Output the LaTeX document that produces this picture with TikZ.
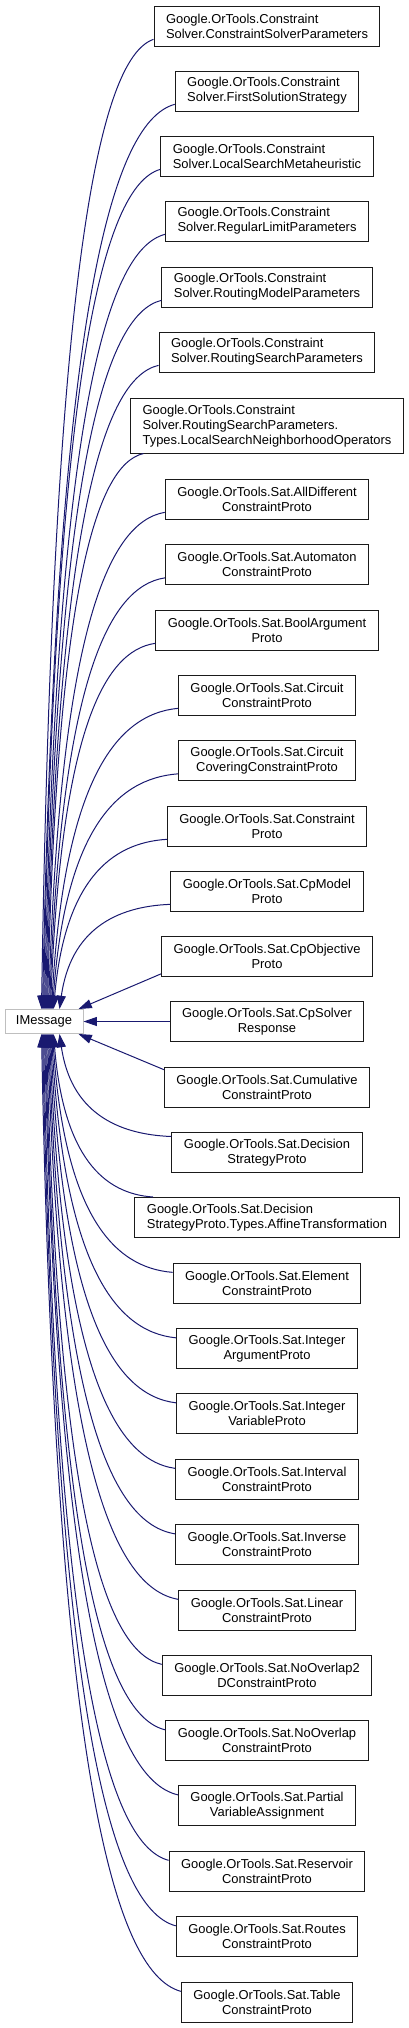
\documentclass[tikz,border=0pt]{standalone}
\usepackage{fontspec}
\setmainfont{Liberation Sans}
\usetikzlibrary{arrows.meta,calc}
\definecolor{edgec}{HTML}{191970}
\definecolor{extc}{HTML}{BFBFBF}
\definecolor{boxc}{HTML}{1A1A1A}

\begin{document}
\begin{tikzpicture}[
  x=0.75pt, y=-0.75pt,
  every node/.style={font=\fontsize{9.7}{11.25}\selectfont},
  cls/.style={draw=boxc, line width=0.75pt, fill=white, align=center,
     inner xsep=9pt, inner ysep=4.5pt, minimum height=30pt},
  clsl/.style={cls, align=left},
  ext/.style={draw=extc, line width=0.75pt, fill=white,
     minimum width=58.5pt, minimum height=18pt, inner sep=2pt},
  inh/.style={draw=edgec, line width=0.75pt, {Triangle[length=10pt,width=6.7pt]}-,
     to path={let \p1=(\tikztostart), \p2=(\tikztotarget) in
       .. controls ($(\p1)+({0.1*(\x2-\x1)},{0.75*(\y2-\y1)})$)
       and ($(\p2)+({-0.5*(\x2-\x1)},{-0.02*(\y2-\y1)})$) .. (\p2)}},
]
\useasboundingbox (0,0) rectangle (408,2028);
% --- column ---
\def\xc{267}
% --- base ---
\node[ext] (im) at (44,1021.5) {IMessage};
% --- constraint solver ---
\node[clsl] (csp)  at (\xc,26)  {Google.OrTools.Constraint\\Solver.ConstraintSolverParameters};
\node[clsl] (fss)  at (\xc,91)  {Google.OrTools.Constraint\\Solver.FirstSolutionStrategy};
\node[clsl] (lsm)  at (\xc,156) {Google.OrTools.Constraint\\Solver.LocalSearchMetaheuristic};
\node[clsl] (rlp)  at (\xc,221) {Google.OrTools.Constraint\\Solver.RegularLimitParameters};
\node[clsl] (rmp)  at (\xc,287) {Google.OrTools.Constraint\\Solver.RoutingModelParameters};
\node[clsl] (rsp)  at (\xc,352) {Google.OrTools.Constraint\\Solver.RoutingSearchParameters};
\node[clsl] (lsno) at (\xc,426) {Google.OrTools.Constraint\\Solver.RoutingSearchParameters.\\Types.LocalSearchNeighborhoodOperators};
% --- sat ---
\node[cls] (alldiff)   at (\xc,499)    {Google.OrTools.Sat.AllDifferent\\ConstraintProto};
\node[cls] (automaton) at (\xc,564.5)  {Google.OrTools.Sat.Automaton\\ConstraintProto};
\node[cls] (boolarg)   at (\xc,630)    {Google.OrTools.Sat.BoolArgument\\Proto};
\node[cls] (circuit)   at (\xc,695)    {Google.OrTools.Sat.Circuit\\ConstraintProto};
\node[cls] (circov)    at (\xc,760.5)  {Google.OrTools.Sat.Circuit\\CoveringConstraintProto};
\node[cls] (cons)      at (\xc,826)    {Google.OrTools.Sat.Constraint\\Proto};
\node[cls] (cpmodel)   at (\xc,891)    {Google.OrTools.Sat.CpModel\\Proto};
\node[cls] (cpobj)     at (\xc,956.5)  {Google.OrTools.Sat.CpObjective\\Proto};
\node[cls] (cpresp)    at (\xc,1021.5) {Google.OrTools.Sat.CpSolver\\Response};
\node[cls] (cumul)     at (\xc,1087)   {Google.OrTools.Sat.Cumulative\\ConstraintProto};
\node[cls] (decstrat)  at (\xc,1152.5) {Google.OrTools.Sat.Decision\\StrategyProto};
\node[clsl] (affine)   at (\xc,1217.5) {Google.OrTools.Sat.Decision\\StrategyProto.Types.AffineTransformation};
\node[cls] (element)   at (\xc,1283)   {Google.OrTools.Sat.Element\\ConstraintProto};
\node[cls] (intarg)    at (\xc,1348.5) {Google.OrTools.Sat.Integer\\ArgumentProto};
\node[cls] (intvar)    at (\xc,1413.5) {Google.OrTools.Sat.Integer\\VariableProto};
\node[cls] (interval)  at (\xc,1479)   {Google.OrTools.Sat.Interval\\ConstraintProto};
\node[cls] (inverse)   at (\xc,1544.5) {Google.OrTools.Sat.Inverse\\ConstraintProto};
\node[cls] (linear)    at (\xc,1610)   {Google.OrTools.Sat.Linear\\ConstraintProto};
\node[cls] (noov2d)    at (\xc,1675)   {Google.OrTools.Sat.NoOverlap2\\DConstraintProto};
\node[cls] (noov)      at (\xc,1740.5) {Google.OrTools.Sat.NoOverlap\\ConstraintProto};
\node[cls] (partial)   at (\xc,1805.5) {Google.OrTools.Sat.Partial\\VariableAssignment};
\node[cls] (reservoir) at (\xc,1871)   {Google.OrTools.Sat.Reservoir\\ConstraintProto};
\node[cls] (routes)    at (\xc,1936.5) {Google.OrTools.Sat.Routes\\ConstraintProto};
\node[cls] (table)     at (\xc,2002)   {Google.OrTools.Sat.Table\\ConstraintProto};
% --- inheritance, upper half ---
\draw[inh] ($(im.north west)+(37,0)$) to ([yshift=-10pt]csp.west);
\draw[inh] ($(im.north west)+(38,0)$) to ([yshift=-10pt]fss.west);
\draw[inh] ($(im.north west)+(39,0)$) to ([yshift=-10pt]lsm.west);
\draw[inh] ($(im.north west)+(40,0)$) to ([yshift=-10pt]rlp.west);
\draw[inh] ($(im.north west)+(41,0)$) to ([yshift=-10pt]rmp.west);
\draw[inh] ($(im.north west)+(42,0)$) to ([yshift=-10pt]rsp.west);
\draw[inh] ($(im.north west)+(43,0)$) to ([xshift=10pt]lsno.south west);
\draw[inh] ($(im.north west)+(44,0)$) to ([yshift=-10pt]alldiff.west);
\draw[inh] ($(im.north west)+(45,0)$) to ([yshift=-10pt]automaton.west);
\draw[inh] ($(im.north west)+(46,0)$) to ([yshift=-10pt]boolarg.west);
\draw[inh] ($(im.north west)+(47,0)$) to ([yshift=-10pt]circuit.west);
\draw[inh] ($(im.north west)+(48,0)$) to ([yshift=-10pt]circov.west);
\draw[inh] ($(im.north west)+(49,0)$) to ([yshift=-10pt]cons.west);
\draw[inh] ($(im.north west)+(55,0)$) to ([yshift=-10pt]cpmodel.west);
% --- inheritance, middle ---
\draw[inh] ($(im.north east)+(-5,0)$) -- ([yshift=-13pt]cpobj.west);
\draw[inh] (im.east) -- (cpresp.west);
\draw[inh] ($(im.south east)+(-5,0)$) -- ([yshift=13pt]cumul.west);
% --- inheritance, lower half ---
\draw[inh] ($(im.south west)+(55,0)$) to ([yshift=12pt]decstrat.west);
\draw[inh] ($(im.south west)+(49,0)$) to ([xshift=14pt]affine.north west);
\draw[inh] ($(im.south west)+(48,0)$) to ([yshift=8pt]element.west);
\draw[inh] ($(im.south west)+(47,0)$) to ([yshift=8pt]intarg.west);
\draw[inh] ($(im.south west)+(46,0)$) to ([yshift=8pt]intvar.west);
\draw[inh] ($(im.south west)+(45,0)$) to ([yshift=8pt]interval.west);
\draw[inh] ($(im.south west)+(44,0)$) to ([yshift=8pt]inverse.west);
\draw[inh] ($(im.south west)+(43,0)$) to ([yshift=8pt]linear.west);
\draw[inh] ($(im.south west)+(42,0)$) to ([yshift=8pt]noov2d.west);
\draw[inh] ($(im.south west)+(41,0)$) to ([yshift=8pt]noov.west);
\draw[inh] ($(im.south west)+(40,0)$) to ([yshift=8pt]partial.west);
\draw[inh] ($(im.south west)+(39,0)$) to ([yshift=8pt]reservoir.west);
\draw[inh] ($(im.south west)+(38,0)$) to ([yshift=8pt]routes.west);
\draw[inh] ($(im.south west)+(37,0)$) to ([yshift=8pt]table.west);
\end{tikzpicture}
\end{document}
